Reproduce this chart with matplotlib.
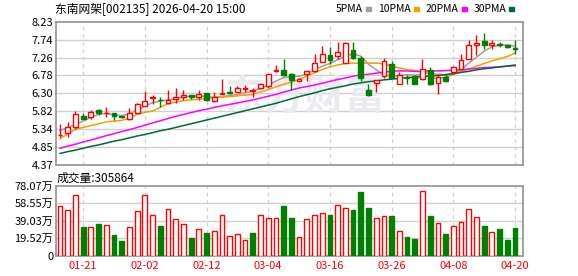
import matplotlib
matplotlib.use('Agg')
import matplotlib.pyplot as plt
from matplotlib.patches import Rectangle
import numpy as np

plt.rcParams['font.family'] = ['Noto Sans CJK SC', 'DejaVu Sans']

title = '东南网架[002135] 2026-04-20 15:00'
opens = [5.17, 5.22, 5.40, 5.68, 5.65, 5.84, 5.76, 5.76, 5.69, 5.60,
         5.78, 5.97, 6.18, 6.13, 6.04, 6.14, 6.19, 6.26, 6.19, 6.32,
         6.09, 6.29, 6.34, 6.34, 6.41, 6.36, 6.43, 6.49, 6.90, 6.93,
         6.81, 6.64, 6.83, 6.89, 7.14, 7.32, 7.30, 7.11, 7.45, 7.26,
         6.38, 6.58, 6.76, 7.10, 6.56, 6.74, 6.76, 6.67, 6.92, 6.58,
         6.74, 6.87, 6.96, 7.23, 7.61, 7.70, 7.61, 7.63, 7.61, 7.53]
highs = [5.48, 5.53, 5.82, 5.77, 5.84, 5.87, 5.92, 5.77, 5.70, 5.89,
         6.05, 6.36, 6.25, 6.20, 6.40, 6.45, 6.38, 6.26, 6.40, 6.32,
         6.33, 6.69, 6.50, 6.49, 6.51, 6.45, 6.55, 6.83, 7.05, 7.23,
         6.84, 6.72, 6.90, 7.36, 7.56, 7.54, 7.69, 7.69, 7.69, 7.29,
         6.54, 6.65, 7.26, 7.16, 6.87, 6.78, 6.78, 7.21, 7.01, 6.78,
         6.83, 7.02, 7.36, 7.74, 7.88, 7.92, 7.74, 7.69, 7.61, 7.72]
lows = [5.12, 5.13, 5.35, 5.60, 5.62, 5.72, 5.65, 5.58, 5.63, 5.57,
        5.76, 5.95, 6.02, 5.92, 6.02, 6.04, 6.13, 6.14, 6.12, 6.09,
        6.07, 6.27, 6.29, 6.33, 6.34, 6.20, 6.41, 6.45, 6.87, 6.76,
        6.38, 6.62, 6.63, 6.88, 7.14, 7.10, 7.21, 7.11, 7.22, 6.63,
        6.22, 6.33, 6.72, 6.70, 6.56, 6.54, 6.56, 6.65, 6.51, 6.29,
        6.61, 6.81, 6.92, 7.22, 7.32, 7.50, 7.50, 7.55, 7.52, 7.36]
closes = [5.19, 5.40, 5.73, 5.61, 5.80, 5.76, 5.78, 5.69, 5.65, 5.76,
          6.00, 6.09, 6.21, 6.11, 6.13, 6.19, 6.26, 6.19, 6.29, 6.11,
          6.20, 6.31, 6.32, 6.44, 6.45, 6.38, 6.54, 6.81, 6.93, 6.78,
          6.65, 6.67, 6.90, 7.12, 7.35, 7.20, 7.41, 7.66, 7.26, 6.72,
          6.25, 6.65, 7.16, 6.72, 6.78, 6.71, 6.56, 6.94, 6.56, 6.74,
          6.63, 7.01, 7.20, 7.61, 7.65, 7.61, 7.65, 7.60, 7.54, 7.48]
# volume in 万 shares
volumes = [55.5, 51.0, 67.9, 31.9, 31.9, 35.3, 33.8, 22.9, 16.1, 31.9,
           49.9, 67.9, 45.4, 33.0, 51.8, 40.5, 35.3, 19.5, 29.7, 25.1,
           27.4, 45.4, 21.8, 24.0, 17.3, 25.1, 45.4, 42.0, 42.0, 55.5,
           42.0, 20.6, 40.5, 45.4, 47.7, 45.4, 56.7, 53.3, 51.0, 71.3,
           53.3, 42.0, 44.3, 44.3, 27.4, 20.6, 18.4, 72.4, 44.3, 36.4,
           24.0, 33.0, 37.5, 52.2, 42.8, 33.0, 26.3, 29.7, 17.3, 30.5864]
ma5 = [5.30, 5.38, 5.46, 5.55, 5.65, 5.73, 5.76, 5.72, 5.70, 5.74,
       5.85, 5.95, 6.05, 6.09, 6.12, 6.16, 6.20, 6.22, 6.23, 6.21,
       6.19, 6.21, 6.24, 6.27, 6.31, 6.36, 6.43, 6.52, 6.63, 6.72,
       6.75, 6.76, 6.81, 6.93, 7.03, 7.10, 7.20, 7.30, 7.36, 7.30,
       7.08, 6.93, 6.79, 6.76, 6.78, 6.80, 6.79, 6.80, 6.72, 6.70,
       6.73, 6.80, 6.93, 7.11, 7.27, 7.43, 7.55, 7.59, 7.60, 7.57]
ma10 = [5.08, 5.20, 5.33, 5.38, 5.43, 5.48, 5.53, 5.55, 5.57, 5.63,
        5.73, 5.79, 5.82, 5.92, 6.02, 6.06, 6.10, 6.12, 6.14, 6.16,
        6.18, 6.20, 6.21, 6.23, 6.25, 6.27, 6.33, 6.40, 6.47, 6.54,
        6.60, 6.67, 6.76, 6.85, 6.94, 7.01, 7.06, 7.10, 7.11, 7.11,
        7.11, 7.11, 7.09, 7.03, 6.98, 6.94, 6.91, 6.86, 6.83, 6.81,
        6.80, 6.81, 6.87, 6.95, 7.03, 7.10, 7.17, 7.23, 7.29, 7.38]
ma20 = [4.82, 4.88, 4.93, 4.99, 5.04, 5.10, 5.16, 5.21, 5.27, 5.32,
        5.38, 5.44, 5.50, 5.56, 5.62, 5.68, 5.73, 5.78, 5.83, 5.87,
        5.92, 5.96, 6.00, 6.04, 6.08, 6.12, 6.17, 6.22, 6.27, 6.33,
        6.39, 6.44, 6.48, 6.52, 6.57, 6.62, 6.67, 6.71, 6.76, 6.79,
        6.81, 6.84, 6.87, 6.89, 6.90, 6.90, 6.89, 6.89, 6.90, 6.90,
        6.91, 6.92, 6.93, 6.95, 6.97, 6.99, 7.00, 7.01, 7.03, 7.04]
ma30 = [4.68, 4.73, 4.77, 4.82, 4.87, 4.91, 4.96, 5.01, 5.05, 5.10,
        5.15, 5.19, 5.24, 5.29, 5.33, 5.38, 5.43, 5.48, 5.53, 5.58,
        5.63, 5.68, 5.73, 5.78, 5.83, 5.88, 5.93, 5.98, 6.03, 6.09,
        6.15, 6.21, 6.26, 6.31, 6.37, 6.42, 6.46, 6.50, 6.55, 6.58,
        6.61, 6.63, 6.66, 6.68, 6.70, 6.72, 6.73, 6.75, 6.76, 6.78,
        6.80, 6.83, 6.86, 6.89, 6.93, 6.96, 6.98, 7.01, 7.03, 7.06]
date_ticks = [3, 11, 19, 27, 35, 43, 51, 59]
date_labels = ['01-21', '02-02', '02-12', '03-04', '03-16', '03-26', '04-08', '04-20']
price_ticks = [4.37, 4.85, 5.34, 5.82, 6.30, 6.78, 7.26, 7.74, 8.23]
vol_ticks = [0, 19.52, 39.03, 58.55, 78.07]
vol_labels = ['0', '19.52万', '39.03万', '58.55万', '78.07万']
ma_names = ['5PMA', '10PMA', '20PMA', '30PMA']

RED = '#ff0000'
GREEN = '#008000'
MA_COLORS = ['#a0a0a0', '#f5a000', '#ff00ff', '#006a35']
GRID = '#d0d0d0'
BORDER = '#9a9a9a'

W, H = 578, 276
fig = plt.figure(figsize=(W / 100, H / 100), dpi=100)

def px_axes(l, t, r, b):
    return fig.add_axes([l / W, 1 - b / H, (r - l) / W, (b - t) / H])

axp = px_axes(56, 21.5, 522.5, 165)
axv = px_axes(56, 186, 522.5, 255.5)

n = len(closes)
x = np.arange(n)
o = np.array(opens); c = np.array(closes); h = np.array(highs); l = np.array(lows)
up = c >= o
bw = 0.62

for ax in (axp, axv):
    ax.set_xlim(-0.52, 59.97)
    for s in ax.spines.values():
        s.set_color(BORDER)
        s.set_linewidth(1.3)
    ax.set_xticks(date_ticks)
    for t in date_ticks:
        ax.axvline(t, color=GRID, lw=0.9, ls=(0, (3, 3)), zorder=0)
    ax.tick_params(length=0, pad=2, labelsize=8)

# watermark
axp.text(0.535, 0.47, '东方财富', transform=axp.transAxes, fontsize=29,
         color='#ebebef', fontweight='bold', ha='center', va='center', zorder=0.5)

# price panel
axp.set_ylim(4.37, 8.23)
axp.set_yticks(price_ticks)
axp.set_yticklabels(['%.2f' % v for v in price_ticks])
for t in price_ticks[1:-1]:
    axp.axhline(t, color=GRID, lw=1, zorder=0)
axp.set_xticklabels([])

cols = np.where(up, RED, GREEN)
axp.vlines(x, l, h, colors=cols, lw=1, zorder=3)
bottoms = np.minimum(o, c)
heights = np.maximum(np.abs(c - o), 0.012)
axp.bar(x, heights, bw, bottom=bottoms, facecolor=np.where(up, 'white', GREEN),
        edgecolor=cols, lw=1, zorder=4)

for vals, col in zip([ma5, ma10, ma20, ma30], MA_COLORS):
    axp.plot(x, vals, color=col, lw=1.1, zorder=2)

# volume panel
prev = np.concatenate([[c[0] - 1], c[:-1]])
vup = c >= prev
axv.set_ylim(0, 78.07)
axv.set_yticks(vol_ticks)
axv.set_yticklabels(vol_labels)
for t in vol_ticks[1:-1]:
    axv.axhline(t, color=GRID, lw=1, zorder=0)
vcols = np.where(vup, RED, GREEN)
axv.bar(x, volumes, bw, facecolor=np.where(vup, 'white', GREEN), edgecolor=vcols,
        lw=1, zorder=3)
axv.set_xticklabels(date_labels, color=RED)
axv.tick_params(axis='x', pad=4)

# texts
fig.text(55 / W, 1 - 9 / H, title, fontsize=8.5, va='center', ha='left')
fig.text(57 / W, 1 - 178 / H, '成交量:%d' % round(volumes[-1] * 10000), fontsize=8.5,
         va='center', ha='left')

# legend: text followed by a small coloured block
renderer = fig.canvas.get_renderer()
lx = 336
for name, col in zip(ma_names, MA_COLORS):
    t = fig.text(lx / W, 1 - 9 / H, name, fontsize=7.5, va='center', ha='left')
    bb = t.get_window_extent(renderer)
    right = bb.x1
    fig.patches.append(Rectangle(((right + 3) / W, 1 - 11 / H), 5 / W, 4 / H,
                                 transform=fig.transFigure, color=col))
    lx = right + 15

fig.savefig('out.png', dpi=100)
